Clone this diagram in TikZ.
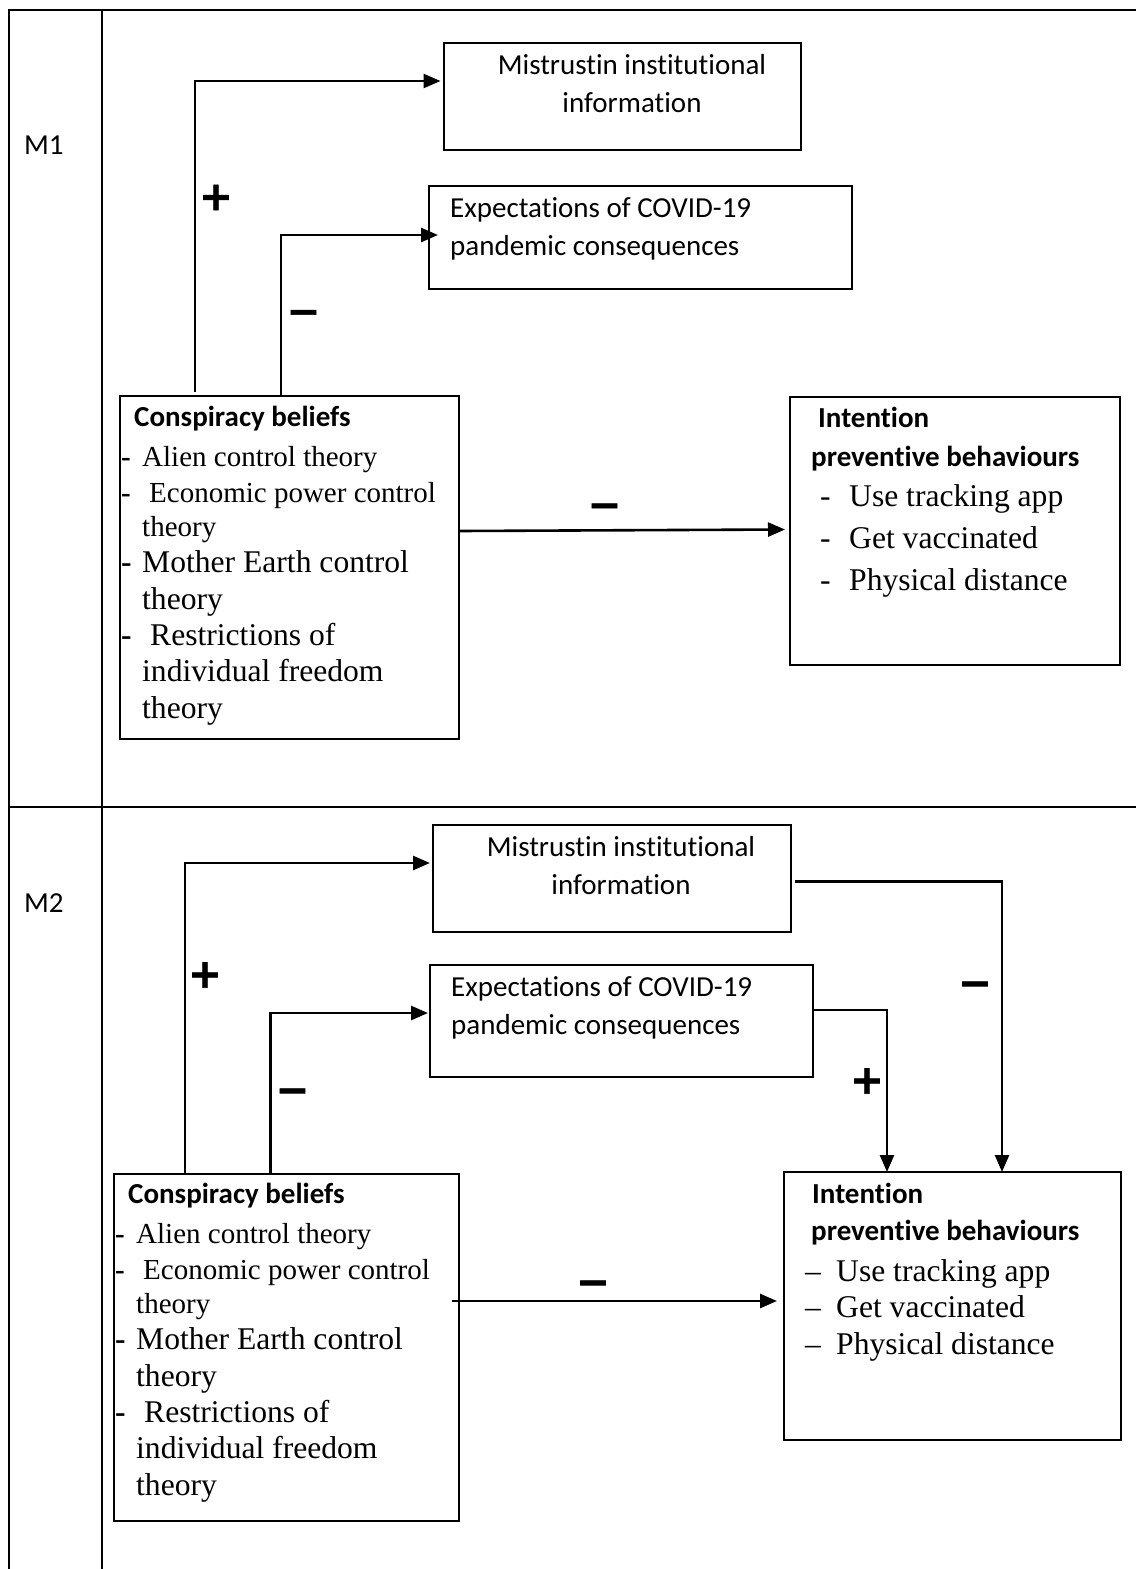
\documentclass[tikz,border=0pt]{standalone}
\usepackage{fontspec}
\setmainfont{Liberation Serif}
\newfontfamily\calib[Ligatures=NoCommon]{Carlito}
\newfontfamily\signfont[FakeBold=1.5]{DejaVu Sans Bold}
\usetikzlibrary{arrows.meta}

\begin{document}
\begin{tikzpicture}[x=1pt,y=-1pt,
  grid/.style={line width=2.8pt},
  box/.style={draw, line width=1.8pt, outer sep=0pt, inner sep=0pt, anchor=north west},
  link/.style={line width=2.6pt, -{Triangle[length=17pt,width=14pt]}},
  hd/.style={anchor=base west, inner sep=0pt, font=\calib\bfseries\fontsize{29}{35}\selectfont},
  lbl/.style={anchor=base west, inner sep=0pt, font=\calib\fontsize{29}{35}\selectfont},
  item/.style={anchor=base west, inner sep=0pt, font=\fontsize{29}{35}\selectfont},
  bigitem/.style={anchor=base west, inner sep=0pt, font=\fontsize{31.6}{38}\selectfont},
  sign/.style={inner sep=0pt, font=\signfont\fontsize{40}{40}\selectfont},
]
\useasboundingbox (0,0) rectangle (1136,1569);

% table rules
\draw[grid] (9,1569) -- (9,10) -- (1136,10);
\draw[grid] (102,10) -- (102,1569);
\draw[grid] (9,807) -- (1136,807);

% row labels
\node[lbl] (m1) at (24,154) {M1};
\node[lbl] (m2) at (24,912) {M2};

% ---------- model M1 ----------
\node[box, minimum width=357pt, minimum height=107pt] (mis1) at (444,43) {};
\node[lbl, anchor=base] (mis1a) at (632,74) {Mistrustin institutional};
\node[lbl, anchor=base] (mis1b) at (632,112) {information};

\node[box, minimum width=423pt, minimum height=103pt] (exp1) at (429,186) {};
\node[lbl] (exp1a) at (450,217) {Expectations of COVID-19};
\node[lbl] (exp1b) at (450,255) {pandemic consequences};

\node[box, minimum width=339pt, minimum height=343pt] (cons1) at (120,396) {};
\node[hd] (cons1h) at (134,426) {Conspiracy beliefs};
\foreach \i/\x/\y/\t in {0/142/466/Alien control theory, 1/149/502/Economic power control,
    2/142/536/theory}
  \node[item] (cons1l\i) at (\x,\y) {\t};
\foreach \i/\x/\y/\t in {3/142/572/Mother Earth control, 4/142/609/theory,
    5/150/645/Restrictions of, 6/142/681/individual freedom, 7/142/718/theory}
  \node[bigitem] (cons1l\i) at (\x,\y) {\t};
\foreach \i/\y in {0/466,1/502}
  \node[item] (cons1d\i) at (121,\y) {\textbf{-}};
\foreach \i/\y in {3/572,5/645}
  \node[bigitem] (cons1d\i) at (121,\y) {\textbf{-}};

\node[box, minimum width=330pt, minimum height=268pt] (int1) at (790,397) {};
\node[hd] (int1h) at (818,427) {Intention};
\node[hd] (int1g) at (811,466) {preventive behaviours};
\foreach \i/\t in {0/Use tracking app, 1/Get vaccinated, 2/Physical distance} {
  \node[bigitem] (int1d\i) at (820,506+42*\i) {-};
  \node[bigitem] (int1l\i) at (849,506+42*\i) {\t};
}

\draw[link] ([xshift=75pt,yshift=4pt]cons1.north west) |- ([xshift=-3.5pt,yshift=15.5pt]mis1.west);
\draw[link] ([xshift=161pt]cons1.north west) |- ([xshift=9pt,yshift=2.5pt]exp1.west);
\draw[link] ([yshift=36.5pt]cons1.east) -- ([xshift=-5pt,yshift=1.5pt]int1.west);

\node[sign] (s1a) at (216,197.5) {+};
\node[sign] (s1b) at (303.5,317.5) {−};
\node[sign] (s1c) at (604.5,511) {−};

% ---------- model M2 ----------
\node[box, minimum width=358pt, minimum height=107pt] (mis2) at (433,825) {};
\node[lbl, anchor=base] (mis2a) at (621,856) {Mistrustin institutional};
\node[lbl, anchor=base] (mis2b) at (621,894) {information};

\node[box, minimum width=383pt, minimum height=112pt] (exp2) at (430,965) {};
\node[lbl] (exp2a) at (451,996) {Expectations of COVID-19};
\node[lbl] (exp2b) at (451,1034) {pandemic consequences};

\node[box, minimum width=345pt, minimum height=347pt] (cons2) at (114,1174) {};
\node[hd] (cons2h) at (128,1203) {Conspiracy beliefs};
\foreach \i/\x/\y/\t in {0/136/1243/Alien control theory, 1/143/1279/Economic power control,
    2/136/1313/theory}
  \node[item] (cons2l\i) at (\x,\y) {\t};
\foreach \i/\x/\y/\t in {3/136/1349/Mother Earth control, 4/136/1386/theory,
    5/144/1422/Restrictions of, 6/136/1458/individual freedom, 7/136/1495/theory}
  \node[bigitem] (cons2l\i) at (\x,\y) {\t};
\foreach \i/\y in {0/1243,1/1279}
  \node[item] (cons2d\i) at (115,\y) {\textbf{-}};
\foreach \i/\y in {3/1349,5/1422}
  \node[bigitem] (cons2d\i) at (115,\y) {\textbf{-}};

\node[box, minimum width=337pt, minimum height=268pt] (int2) at (784,1172) {};
\node[hd] (int2h) at (812,1203) {Intention};
\node[hd] (int2g) at (811,1240) {preventive behaviours};
\foreach \i/\t in {0/Use tracking app, 1/Get vaccinated, 2/Physical distance} {
  \node[bigitem] (int2d\i) at (805,1281+36.5*\i) {–};
  \node[bigitem] (int2l\i) at (836,1281+36.5*\i) {\t};
}

\draw[link] ([xshift=71pt]cons2.north west) |- ([xshift=-3pt,yshift=15.5pt]mis2.west);
\draw[link] ([xshift=156.5pt]cons2.north west) |- ([xshift=-2pt,yshift=8pt]exp2.west);
\draw[link] ([xshift=-7pt,yshift=46.5pt]cons2.east) -- ([xshift=-7pt,yshift=5pt]int2.west);
\draw[link] ([xshift=4pt,yshift=-3pt]mis2.east) -| ([xshift=49.5pt]int2.north);
\draw[link] ([yshift=11pt]exp2.east) -| ([xshift=-65.5pt]int2.north);

\node[sign] (s2a) at (205,975) {+};
\node[sign] (s2b) at (292.5,1096) {−};
\node[sign] (s2c) at (593,1288) {−};
\node[sign] (s2d) at (975,989) {−};
\node[sign] (s2e) at (867,1081) {+};
\end{tikzpicture}
\end{document}
